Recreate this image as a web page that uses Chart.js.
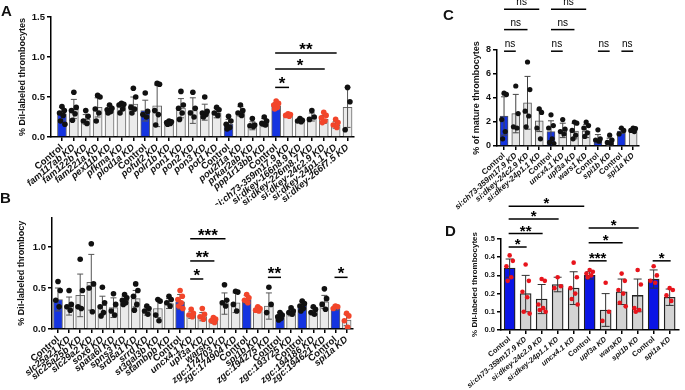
<!DOCTYPE html>
<html>
<head>
<meta charset="utf-8">
<script src="https://cdn.jsdelivr.net/npm/chart.js@4"></script>
<style>
body{margin:0;background:#fff;width:685px;height:390px;position:relative;overflow:hidden;font-family:Arial,"Liberation Sans",sans-serif}
canvas{position:absolute}
.lbl{position:absolute;font-weight:bold;font-size:15px;line-height:15px;color:#111}
</style>
</head>
<body>
<canvas id="cA" width="358" height="205" style="left:0;top:0"></canvas>
<canvas id="cB" width="360" height="195" style="left:0;top:195px"></canvas>
<canvas id="cC" width="245" height="210" style="left:440px;top:0"></canvas>
<canvas id="cD" width="245" height="200" style="left:440px;top:190px"></canvas>
<div class="lbl" style="left:1px;top:3px">A</div>
<div class="lbl" style="left:0px;top:190px">B</div>
<div class="lbl" style="left:443px;top:7px">C</div>
<div class="lbl" style="left:445px;top:223px">D</div>
<script>
var FONT = 'Arial, "Liberation Sans", sans-serif';

// ---- panel A
var catsA = ['Control','fam117ab KD','fam122b KD','fam221a KD','pex11b KD','pfkma KD','plod1a KD','Control','pofut2 KD','polr1b KD','pon1 KD','pon2 KD','pon3 KD','pot1 KD','Control','pou2f1a KD','prkar2ab KD','ppp1r13bb KD','Control','si:ch73-359m17.9 KD','si:dkey-166n8.9 KD','si:dkey-226m8.7 KD','si:dkey-24c2.9 KD','si:dkey-24p1.1 KD','si:dkey-266f7.5 KD'];
var meanA = [0.29,0.35,0.22,0.37,0.35,0.38,0.41,0.33,0.39,0.18,0.36,0.33,0.31,0.30,0.16,0.32,0.14,0.18,0.39,0.27,0.21,0.25,0.22,0.15,0.37];
var sdA = [0.08,0.12,0.06,0.12,0.04,0.05,0.09,0.13,0.26,0.02,0.12,0.16,0.10,0.06,0.06,0.06,0.05,0.05,0.04,0.02,0.02,0.05,0.05,0.04,0.25];
var ptsA = [[0.38,0.33,0.30,0.27,0.20,0.16],[0.56,0.37,0.33,0.29,0.21],[0.33,0.26,0.20,0.17],[0.52,0.50,0.35,0.30,0.20],[0.40,0.36,0.34,0.32,0.30],
  [0.42,0.41,0.40,0.35,0.30],[0.61,0.50,0.37,0.35,0.30],[0.55,0.32,0.28,0.25],[0.67,0.66,0.33,0.28,0.15],[0.20,0.19,0.18,0.17,0.16],
  [0.57,0.40,0.36,0.30,0.22],[0.56,0.36,0.30,0.25],[0.50,0.32,0.30,0.28,0.25],[0.37,0.34,0.30,0.27],[0.26,0.20,0.16,0.12,0.10],
  [0.40,0.33,0.30,0.27],[0.23,0.15,0.14,0.13],[0.25,0.20,0.17,0.15],[0.45,0.42,0.40,0.37,0.35],[0.29,0.28,0.27,0.26],
  [0.23,0.21,0.20,0.19],[0.33,0.25,0.22],[0.31,0.27,0.24,0.20,0.18],[0.22,0.18,0.15,0.12],[0.62,0.44,0.09]];
var redA = [18,19,22,23];
var sigA = [[18,19,0.62,'*'],[18,22,0.85,'*'],[18,23,1.05,'**']];
var yTicksA = [0,0.5,1.0,1.5];

// ---- panel B
var catsB = ['Control','slc25a21 KD','slc25a25b KD','slc29a2 KD','sox6 KD','spata6l KD','spns3 KD','srd5a1 KD','srrd KD','st3gal3b KD','stambpb KD','Control','uncx4.1 KD','upf3a KD','warsKD','zgc:174703 KD','zgc:174904 KD','Control','spi1b KD','zgc:194275 KD','Control','zgc:193725 KD','Control','zgc:194186 KD','zgc:194621 KD','Control','spi1a KD'];
var meanB = [0.36,0.28,0.41,0.57,0.29,0.26,0.35,0.37,0.22,0.25,0.31,0.33,0.17,0.15,0.10,0.31,0.32,0.36,0.24,0.28,0.16,0.20,0.29,0.22,0.33,0.26,0.11];
var sdB = [0.14,0.11,0.26,0.34,0.11,0.12,0.05,0.10,0.05,0.11,0.06,0.09,0.04,0.05,0.03,0.13,0.12,0.05,0.03,0.16,0.04,0.04,0.05,0.04,0.08,0.03,0.07];
var ptsB = [[0.58,0.47,0.35,0.27],[0.47,0.30,0.27,0.23],[0.85,0.47,0.27,0.25],[1.04,0.55,0.50,0.21],[0.51,0.32,0.27,0.20,0.16],
  [0.43,0.30,0.22,0.17],[0.42,0.38,0.35,0.32,0.30],[0.55,0.47,0.40,0.30,0.23],[0.28,0.25,0.22,0.18],[0.36,0.34,0.17,0.10],
  [0.40,0.36,0.32,0.28],[0.47,0.40,0.36,0.32,0.28,0.25],[0.24,0.19,0.17,0.15],[0.25,0.18,0.15,0.12],[0.14,0.12,0.10,0.08],
  [0.54,0.35,0.32,0.28],[0.46,0.45,0.30,0.22],[0.42,0.38,0.35,0.32],[0.27,0.25,0.23,0.22],[0.51,0.30,0.20],
  [0.20,0.17,0.15,0.13,0.11],[0.26,0.22,0.20,0.18],[0.34,0.31,0.28,0.25,0.22],[0.27,0.24,0.20,0.18],[0.49,0.37,0.30,0.24],
  [0.28,0.27,0.25],[0.19,0.16,0.10,0.02]];
var redB = [11,12,13,14,17,18,25,26];
var sigB = [[12,15,1.10,'***'],[12,14,0.83,'**'],[12,13,0.61,'*'],[19,20,0.63,'**'],[25,26,0.63,'*']];
var yTicksB = [0,0.5,1.0];

// ---- panel C
var catsC = ['Control','si:ch73-359m17.9 KD','si:dkey-24c2.9 KD','si:dkey-24p1.1 KD','Control','uncx4.1 KD','upf3a KD','wars1 KD','Control','spi1b KD','Control','spi1a KD'];
var meanC = [2.5,2.7,3.6,2.1,1.2,1.3,1.25,1.25,0.6,0.35,1.25,1.3];
var sdC = [1.6,1.6,2.2,0.9,0.9,0.6,0.65,0.55,0.35,0.3,0.2,0.15];
var ptsC = [[4.4,4.3,2.2,1.2,0.6],[5.0,2.7,1.6,1.5],[7.0,4.7,2.9,2.5,1.6],[3.1,2.8,1.5,0.6],[2.6,1.7,1.5,0.6,0.3,0.2],[2.2,1.4,1.2,1.0],
  [2.0,1.9,1.3,0.9,0.6],[2.0,1.7,1.5,1.1,0.8],[1.35,0.6,0.5,0.4],[0.9,0.5,0.3,0.2],[1.5,1.3,1.0],[1.5,1.45,1.3,1.2]];
var redC = [];
var sigC = [[0,1,7.9,'ns'],[4,5,7.9,'ns'],[8,9,7.9,'ns'],[10,11,7.9,'ns'],[0,2,9.7,'ns'],[4,6,9.7,'ns'],[0,3,11.4,'ns'],[4,7,11.4,'ns']];
var yTicksC = [0,2,4,6,8];

// ---- panel D
var catsD = ['Control','si:ch73-359m17.9 KD','si:dkey-24c2.9 KD','si:dkey-24p1.1 KD','uncx4.1 KD','Control','upf3a KD','warsKD','spi1b KD','Control','spi1a KD'];
var meanD = [0.34,0.20,0.17,0.25,0.23,0.30,0.11,0.21,0.19,0.28,0.18];
var sdD = [0.05,0.10,0.08,0.04,0.09,0.02,0.09,0.07,0.09,0.05,0.045];
var ptsD = [[0.41,0.38,0.35,0.29,0.27],[0.36,0.27,0.21,0.18,0.10,0.09],[0.28,0.27,0.14,0.12,0.11,0.10],[0.29,0.24,0.23],
  [0.37,0.29,0.23,0.20,0.17,0.14],[0.33,0.32,0.31,0.30,0.29],[0.26,0.10,0.05],[0.31,0.27,0.22,0.20,0.15,0.13],
  [0.33,0.25,0.12,0.11,0.10],[0.35,0.30,0.27,0.26],[0.23,0.22,0.19,0.16]];
var redD = [0,1,2,3,4,5,6,7,8,9,10];
var sigD = [[0,1,0.456,'*'],[0,2,0.53,'**'],[0,3,0.61,'*'],[0,4.6,0.68,'*'],[5,6,0.38,'***'],[5,7,0.48,'*'],[5,8,0.56,'*'],[9,10,0.38,'*']];
var yTicksD = [0,0.1,0.2,0.3,0.4,0.5];

var jit = [0, 0.2, -0.2, 0.1, -0.12, 0.25];

function makeChart(id, d) {
  var bars = d.cats.map(function(c, i) { return {x: i, y: d.mean[i]}; });
  var barCol = d.cats.map(function(c) { return c === 'Control' ? d.blue : d.grey; });
  var dots = [], dotCol = [];
  d.pts.forEach(function(g, i) {
    g.forEach(function(v, k) {
      dots.push({x: i + jit[k % jit.length], y: v});
      dotCol.push(d.red.indexOf(i) >= 0 ? d.redCol : '#111');
    });
  });

  var errBars = {
    id: 'errBars',
    afterDatasetDraw: function(chart, args) {
      if (args.index !== 0) return;
      var x = chart.scales.x, y = chart.scales.y, ctx = chart.ctx;
      ctx.save();
      ctx.strokeStyle = d.errCol;
      ctx.lineWidth = 1;
      d.mean.forEach(function(m, i) {
        var px = x.getPixelForValue(i);
        var hi = y.getPixelForValue(m + d.sd[i]);
        var lo = y.getPixelForValue(Math.max(0, m - d.sd[i]));
        ctx.beginPath();
        ctx.moveTo(px, hi); ctx.lineTo(px, lo);
        ctx.moveTo(px - d.cap, hi); ctx.lineTo(px + d.cap, hi);
        ctx.moveTo(px - d.cap, lo); ctx.lineTo(px + d.cap, lo);
        ctx.stroke();
      });
      ctx.restore();
    }
  };

  var sigLines = {
    id: 'sigLines',
    afterDraw: function(chart) {
      var x = chart.scales.x, y = chart.scales.y, ctx = chart.ctx;
      ctx.save();
      ctx.strokeStyle = '#000';
      ctx.fillStyle = '#000';
      ctx.lineWidth = 1.5;
      ctx.textAlign = 'center';
      ctx.textBaseline = 'alphabetic';
      d.sig.forEach(function(s) {
        var x1 = x.getPixelForValue(s[0]) - d.ext, x2 = x.getPixelForValue(s[1]) + d.ext;
        var yy = y.getPixelForValue(s[2]);
        ctx.beginPath(); ctx.moveTo(x1, yy); ctx.lineTo(x2, yy); ctx.stroke();
        if (s[3] === 'ns') {
          ctx.font = '10px ' + FONT;
          ctx.fillText(s[3], (x1 + x2) / 2, yy - 4);
        } else {
          ctx.font = 'bold ' + d.star + 'px ' + FONT;
          ctx.fillText(s[3], (x1 + x2) / 2, yy + 2);
        }
      });
      ctx.restore();
    }
  };

  return new Chart(document.getElementById(id), {
    type: 'bar',
    data: {
      datasets: [
        {type: 'bar', data: bars, backgroundColor: barCol, borderColor: d.edge, borderWidth: d.bw, barThickness: d.barW, order: 2},
        {type: 'scatter', data: dots, pointBackgroundColor: dotCol, pointBorderColor: dotCol, pointRadius: d.r, pointBorderWidth: 0, order: 1}
      ]
    },
    options: {
      responsive: false,
      animation: false,
      events: [],
      layout: {padding: {top: d.top, right: d.right, left: 0, bottom: 0}},
      plugins: {legend: {display: false}, tooltip: {enabled: false}},
      scales: {
        x: {
          type: 'linear', min: d.xMin, max: d.xMax, offset: false,
          afterBuildTicks: function(s) { s.ticks = d.cats.map(function(c, i) { return {value: i}; }); },
          afterFit: function(s) { s.height = d.xh; },
          grid: {drawOnChartArea: false, offset: false, tickLength: 4, color: '#000', lineWidth: 1.5},
          border: {color: '#000', width: 1.5},
          ticks: {
            autoSkip: false, minRotation: d.rot, maxRotation: d.rot, padding: 1, color: '#111',
            callback: function(v) { return d.cats[v]; },
            font: function(c) {
              return {family: FONT, size: d.fx, weight: 'bold', style: d.cats[c.index] === 'Control' ? 'normal' : 'italic'};
            }
          }
        },
        y: {
          min: 0, max: d.yMax,
          afterBuildTicks: function(s) { s.ticks = d.yTicks.map(function(v) { return {value: v}; }); },
          afterFit: function(s) { s.width = d.left; },
          grid: {drawOnChartArea: false, tickLength: 4, color: '#000', lineWidth: 1.5},
          border: {color: '#000', width: 1.5},
          ticks: {padding: 2, color: '#111', font: {family: FONT, size: d.fy, weight: 'bold'},
            callback: function(v) { return v.toFixed(d.dec); }},
          title: {display: true, text: d.title, color: '#111', font: {family: FONT, size: d.ft, weight: 'bold'},
            padding: {top: d.tp, bottom: 0}}
        }
      }
    },
    plugins: [errBars, sigLines]
  });
}

makeChart('cA', {cats: catsA, mean: meanA, sd: sdA, pts: ptsA, red: redA, sig: sigA, yTicks: yTicksA,
  yMax: 1.5, dec: 1, left: 51, top: 17, right: 4.5, xh: 68, xMin: -0.92, xMax: 24.5,
  blue: '#1534e0', grey: '#ebebeb', edge: '#666', bw: 1, barW: 9, r: 2.8, redCol: '#f2452a', errCol: '#555', cap: 3,
  rot: 40, fx: 9.5, fy: 9.5, ft: 9, tp: 17.6, star: 17, ext: 1, title: '% DiI-labeled thrombocytes'});

makeChart('cB', {cats: catsB, mean: meanB, sd: sdB, pts: ptsB, red: redB, sig: sigB, yTicks: yTicksB,
  yMax: 1.36, dec: 1, left: 52, top: 22.5, right: 7.3, xh: 61, xMin: -0.54, xMax: 26.55,
  blue: '#1534e0', grey: '#ebebeb', edge: '#666', bw: 1, barW: 9, r: 2.8, redCol: '#f2452a', errCol: '#555', cap: 3,
  rot: 40, fx: 9.5, fy: 9.5, ft: 9, tp: 16.6, star: 17, ext: 1, title: '% DiI-labeled thrombocy'});

makeChart('cC', {cats: catsC, mean: meanC, sd: sdC, pts: ptsC, red: redC, sig: sigC, yTicks: yTicksC,
  yMax: 8, dec: 0, left: 57, top: 50, right: 46, xh: 64, xMin: -0.6, xMax: 11.5,
  blue: '#1534e0', grey: '#e6e6e6', edge: '#555', bw: 1, barW: 8, r: 2.6, redCol: '#f2452a', errCol: '#444', cap: 3,
  rot: 42, fx: 8, fy: 9, ft: 9, tp: 31.6, star: 14, ext: 0, title: '% of mature thrombocytes'});

makeChart('cD', {cats: catsD, mean: meanD, sd: sdD, pts: ptsD, red: redD, sig: sigD, yTicks: yTicksD,
  yMax: 0.5, dec: 1, left: 61, top: 49, right: 6.7, xh: 60, xMin: -0.54, xMax: 10.54,
  blue: '#0a14e6', grey: '#d4d4d4', edge: '#222', bw: 1.3, barW: 11, r: 2.3, redCol: '#e8141c', errCol: '#333', cap: 4,
  rot: 40, fx: 7.5, fy: 7.5, ft: 8, tp: 30.2, star: 15, ext: 1, title: '% DiI-labeled thrombocytes'});
</script>
</body>
</html>
